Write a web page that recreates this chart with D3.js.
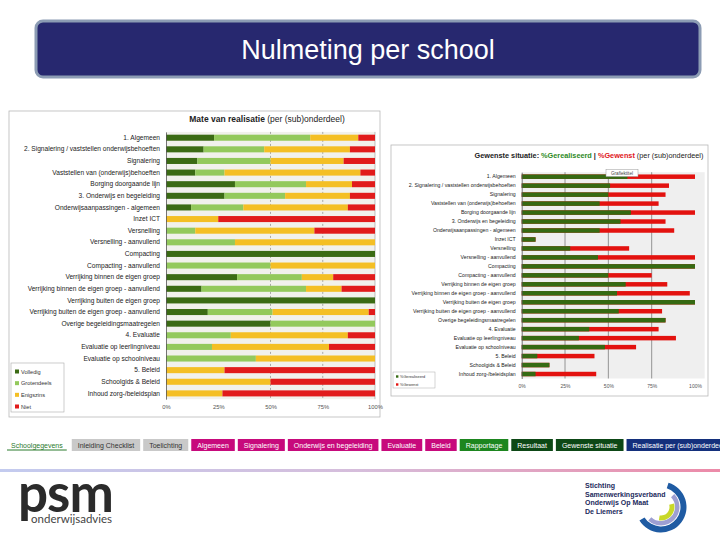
<!DOCTYPE html>
<html>
<head>
<meta charset="utf-8">
<script src="https://cdn.jsdelivr.net/npm/d3@7"></script>
<style>
  body { margin: 0; background: #fff; }
  svg { display: block; font-family: "Liberation Sans", Arial, sans-serif; }
</style>
</head>
<body>
<svg id="slide" width="720" height="540"></svg>
<script>
// categories shared by both charts
const categories = [
  "1. Algemeen",
  "2. Signalering / vaststellen onderwijsbehoeften",
  "Signalering",
  "Vaststellen van (onderwijs)behoeften",
  "Borging doorgaande lijn",
  "3. Onderwijs en begeleiding",
  "Onderwijsaanpassingen - algemeen",
  "Inzet ICT",
  "Versnelling",
  "Versnelling - aanvullend",
  "Compacting",
  "Compacting - aanvullend",
  "Verrijking binnen de eigen groep",
  "Verrijking binnen de eigen groep - aanvullend",
  "Verrijking buiten de eigen groep",
  "Verrijking buiten de eigen groep - aanvullend",
  "Overige begeleidingsmaatregelen",
  "4. Evaluatie",
  "Evaluatie op leerlingniveau",
  "Evaluatie op schoolniveau",
  "5. Beleid",
  "Schoolgids & Beleid",
  "Inhoud zorg-/beleidsplan"
];

// left chart: mate van realisatie (percentages)
const volledig    = [23, 18, 15, 14, 33, 28, 12,  0,  0,  0, 100,  0, 34, 17, 100, 20, 50,  0,  0,  0,  0,  0,  0];
const grotendeels = [46, 29, 35, 14, 34, 29, 25,  0, 14, 33,   0, 50, 31, 50,   0, 31, 50, 31, 22, 43,  0,  0,  0];
const enigszins   = [23, 41, 35, 65, 22, 31, 50, 25, 57, 67,   0, 50, 15, 17,   0, 46,  0, 56, 56, 57, 28, 50, 27];
const niet        = [ 8, 12, 15,  7, 11, 12, 13, 75, 29,  0,   0,  0, 20, 16,   0,  3,  0, 13, 22,  0, 72, 50, 73];
const realisatieKeys = ["volledig", "grotendeels", "enigszins", "niet"];
const realisatieLabels = ["Volledig", "Grotendeels", "Enigszins", "Niet"];

// right chart: gewenste situatie
const gerealiseerd = [61, 51, 50, 45, 63, 57, 45,  8, 28,  44, 100, 50, 60, 55, 100, 56, 83, 39, 33, 48,  9, 16,  8];
const gewenst      = [100, 85, 83, 79, 100, 83, 88, 8, 62, 100, 100, 75, 84, 97, 100, 81, 83, 79, 89, 66, 42, 16, 43];

const xTicks = [0, 25, 50, 75, 100];

// sheet tabs
const tabLabels = ["Schoolgegevens", "Inleiding Checklist", "Toelichting", "Algemeen", "Signalering",
  "Onderwijs en begeleiding", "Evaluatie", "Beleid", "Rapportage", "Resultaat", "Gewenste situatie",
  "Realisatie per (sub)onderdeel"];
const tabColors = ["#ffffff", "#c9c9c9", "#c9c9c9", "#c70a7c", "#c70a7c", "#c70a7c", "#c70a7c", "#c70a7c",
  "#1d861f", "#0d4816", "#0d4816", "#14307c"];

const svg = d3.select("#slide");

// ---------- title banner ----------
svg.append("rect")
  .attr("x", 36).attr("y", 21).attr("width", 664).attr("height", 56).attr("rx", 7)
  .attr("fill", "#27286f").attr("stroke", "#8c9cb4").attr("stroke-width", 3);
svg.append("text")
  .attr("x", 368).attr("y", 59).attr("text-anchor", "middle")
  .attr("fill", "#fff").attr("font-size", 27)
  .text("Nulmeting per school");

// ---------- left chart ----------
const left = svg.append("g");
left.append("rect")
  .attr("x", 9).attr("y", 111).attr("width", 371).attr("height", 306)
  .attr("fill", "#fff").attr("stroke", "#b8b8b8").attr("stroke-width", 0.8);

const title1 = left.append("text").attr("x", 267).attr("y", 122).attr("text-anchor", "middle")
  .attr("font-size", 8.5).attr("fill", "#222");
title1.append("tspan").attr("font-weight", "bold").text("Mate van realisatie ");
title1.append("tspan").text("(per (sub)onderdeel)");

const xL = d3.scaleLinear().domain([0, 100]).range([166, 375]);
const yL = d3.scaleBand().domain(categories).range([131.9, 399.2]).paddingInner(0.48).paddingOuter(0.24);

left.append("rect")
  .attr("x", xL(0)).attr("y", 131.9).attr("width", xL(100) - xL(0)).attr("height", 399.2 - 131.9)
  .attr("fill", "#f1f1ec");

left.selectAll(".gridL").data([50, 75]).join("line")
  .attr("x1", d => xL(d)).attr("x2", d => xL(d))
  .attr("y1", 131.9).attr("y2", 399.2)
  .attr("stroke", "#777").attr("stroke-width", 0.6).attr("stroke-dasharray", "2,2");
left.append("line")
  .attr("x1", xL(100)).attr("x2", xL(100)).attr("y1", 131.9).attr("y2", 399.2)
  .attr("stroke", "#999").attr("stroke-width", 0.6);

const rowsL = categories.map((c, i) => ({
  cat: c, volledig: volledig[i], grotendeels: grotendeels[i], enigszins: enigszins[i], niet: niet[i]
}));
const stacked = d3.stack().keys(realisatieKeys)(rowsL);
const colorL = d3.scaleOrdinal().domain(realisatieKeys).range(["#3b6b14", "#93c95c", "#f4bf24", "#e11b1b"]);

left.append("g").selectAll("g").data(stacked).join("g")
  .attr("fill", d => colorL(d.key))
  .selectAll("rect").data(d => d).join("rect")
  .attr("x", d => xL(d[0]))
  .attr("y", d => yL(d.data.cat))
  .attr("width", d => xL(d[1]) - xL(d[0]))
  .attr("height", yL.bandwidth());

const yAxisL = left.append("g").attr("transform", `translate(${xL(0)},0)`)
  .call(d3.axisLeft(yL).tickSize(0).tickPadding(6));
yAxisL.select(".domain").attr("stroke", "#555").attr("stroke-width", 0.8);
yAxisL.selectAll("text").attr("font-size", 6.6).attr("fill", "#222")
  .attr("font-family", "'Liberation Sans', Arial, sans-serif");

const xAxisL = left.append("g").attr("transform", "translate(0,403)")
  .call(d3.axisBottom(xL).tickValues(xTicks).tickFormat(d => d + "%").tickSize(0).tickPadding(2));
xAxisL.select(".domain").remove();
xAxisL.selectAll("text").attr("font-size", 5.8).attr("fill", "#555")
  .attr("font-family", "'Liberation Sans', Arial, sans-serif");

// legend
const legL = left.append("g");
legL.append("rect").attr("x", 11).attr("y", 363).attr("width", 53).attr("height", 49)
  .attr("fill", "#fff").attr("stroke", "#aaa").attr("stroke-width", 0.6);
const legRow = d3.scalePoint().domain(realisatieKeys).range([371.5, 406.5]);
legL.selectAll("rect.sw").data(realisatieKeys).join("rect").attr("class", "sw")
  .attr("x", 15).attr("y", d => legRow(d) - 2).attr("width", 4).attr("height", 4)
  .attr("fill", d => colorL(d));
legL.selectAll("text").data(realisatieKeys).join("text")
  .attr("x", 21).attr("y", d => legRow(d) + 2).attr("font-size", 5.6).attr("fill", "#333")
  .text((d, i) => realisatieLabels[i]);

// ---------- right chart ----------
const right = svg.append("g");
right.append("rect")
  .attr("x", 391).attr("y", 145).attr("width", 317).attr("height", 251)
  .attr("fill", "#fff").attr("stroke", "#b8b8b8").attr("stroke-width", 0.8);

const title2 = right.append("text").attr("x", 589).attr("y", 158).attr("text-anchor", "middle")
  .attr("font-size", 7.3).attr("fill", "#222");
title2.append("tspan").attr("font-weight", "bold").text("Gewenste situatie: ");
title2.append("tspan").attr("font-weight", "bold").attr("fill", "#2d8a1e").text("%Gerealiseerd");
title2.append("tspan").attr("font-weight", "bold").text(" | ");
title2.append("tspan").attr("font-weight", "bold").attr("fill", "#e0161b").text("%Gewenst");
title2.append("tspan").text(" (per (sub)onderdeel)");

const xR = d3.scaleLinear().domain([0, 100]).range([521.7, 695]);
const yR = d3.scaleBand().domain(categories).range([172.2, 378.5]).paddingInner(0.5).paddingOuter(0.25);

right.append("rect")
  .attr("x", xR(0)).attr("y", 172.2).attr("width", 183).attr("height", 378.5 - 172.2)
  .attr("fill", "#efefef");
right.selectAll(".gridR").data([25, 50, 75]).join("line")
  .attr("x1", d => xR(d)).attr("x2", d => xR(d))
  .attr("y1", 172.2).attr("y2", 378.5)
  .attr("stroke", "#555").attr("stroke-width", 0.6);

const rowsR = categories.map((c, i) => ({ cat: c, real: gerealiseerd[i], wens: gewenst[i] }));
right.selectAll("rect.wens").data(rowsR).join("rect").attr("class", "wens")
  .attr("x", xR(0)).attr("y", d => yR(d.cat))
  .attr("width", d => xR(d.wens) - xR(0)).attr("height", yR.bandwidth())
  .attr("fill", "#e3120f");
right.selectAll("rect.real").data(rowsR).join("rect").attr("class", "real")
  .attr("x", xR(0)).attr("y", d => yR(d.cat))
  .attr("width", d => xR(d.real) - xR(0)).attr("height", yR.bandwidth())
  .attr("fill", "#356a12");

const yAxisR = right.append("g").attr("transform", `translate(${xR(0)},0)`)
  .call(d3.axisLeft(yR).tickSize(0).tickPadding(6));
yAxisR.select(".domain").attr("stroke", "#555").attr("stroke-width", 0.8);
yAxisR.selectAll("text").attr("font-size", 5.2).attr("fill", "#222")
  .attr("font-family", "'Liberation Sans', Arial, sans-serif");

const xAxisR = right.append("g").attr("transform", "translate(0,382)")
  .call(d3.axisBottom(xR).tickValues(xTicks).tickFormat(d => d + "%").tickSize(0).tickPadding(2));
xAxisR.select(".domain").remove();
xAxisR.selectAll("text").attr("font-size", 5).attr("fill", "#555")
  .attr("font-family", "'Liberation Sans', Arial, sans-serif");

// legend
const legR = right.append("g");
legR.append("rect").attr("x", 393).attr("y", 372).attr("width", 42).attr("height", 16)
  .attr("fill", "#fff").attr("stroke", "#aaa").attr("stroke-width", 0.5);
const legRKeys = ["%Gerealiseerd", "%Gewenst"];
const legRColor = d3.scaleOrdinal().domain(legRKeys).range(["#356a12", "#e3120f"]);
const legRRow = d3.scalePoint().domain(legRKeys).range([376.5, 384.5]);
legR.selectAll("rect.sw").data(legRKeys).join("rect").attr("class", "sw")
  .attr("x", 396).attr("y", d => legRRow(d) - 1.2).attr("width", 2.4).attr("height", 2.4)
  .attr("fill", d => legRColor(d));
legR.selectAll("text").data(legRKeys).join("text")
  .attr("x", 400).attr("y", d => legRRow(d) + 1.3).attr("font-size", 3.8).attr("fill", "#333")
  .text(d => d);

// "Grafiektitel" hover box
right.append("rect").attr("x", 606).attr("y", 169.5).attr("width", 32).attr("height", 7)
  .attr("fill", "#fff").attr("stroke", "#999").attr("stroke-width", 0.5);
right.append("text").attr("x", 622).attr("y", 174.8).attr("text-anchor", "middle")
  .attr("font-size", 4.6).attr("fill", "#444").text("Grafiektitel");

// ---------- sheet tabs ----------
const tabsG = svg.append("g").attr("font-size", 7);
let tx = 5;
tabLabels.forEach((label, i) => {
  const g = tabsG.append("g");
  const txt = g.append("text").attr("y", 447.5).text(label)
    .attr("fill", i === 0 ? "#2b7a2d" : (i < 3 ? "#333" : "#fff"));
  const w = txt.node().getComputedTextLength() + 12;
  g.insert("rect", "text").attr("x", tx).attr("y", 439).attr("width", w).attr("height", 12)
    .attr("fill", tabColors[i]);
  txt.attr("x", tx + 6);
  if (i === 0) {
    g.append("line").attr("x1", tx + 2).attr("x2", tx + w - 2).attr("y1", 450).attr("y2", 450)
      .attr("stroke", "#2b7a2d").attr("stroke-width", 1);
  }
  tx += w + 3;
});

// ---------- footer ----------
const defs = svg.append("defs");
const grad = defs.append("linearGradient").attr("id", "footLine");
grad.append("stop").attr("offset", "0%").attr("stop-color", "#c3cbef");
grad.append("stop").attr("offset", "50%").attr("stop-color", "#d6bddb");
grad.append("stop").attr("offset", "100%").attr("stop-color", "#ec8aa8");
svg.append("rect").attr("x", 0).attr("y", 469).attr("width", 720).attr("height", 3)
  .attr("fill", "url(#footLine)");

// psm logo
svg.append("text").attr("x", 18).attr("y", 512)
  .attr("font-family", "Lato, 'Open Sans', sans-serif").attr("font-weight", 700)
  .attr("font-size", 53).attr("letter-spacing", -1).attr("fill", "#2b2b2b").text("psm");
svg.append("text").attr("x", 31).attr("y", 523)
  .attr("font-family", "Lato, 'Open Sans', sans-serif").attr("font-size", 11.5)
  .attr("fill", "#444").text("onderwijsadvies");

// samenwerkingsverband logo
const swvLines = ["Stichting", "Samenwerkingsverband", "Onderwijs Op Maat", "De Liemers"];
svg.append("g").selectAll("text").data(swvLines).join("text")
  .attr("x", 585).attr("y", (d, i) => 488 + i * 8.5)
  .attr("font-size", 7).attr("font-weight", "bold").attr("fill", "#1c2a5c")
  .text(d => d);
const arc = d3.arc();
const logoG = svg.append("g").attr("transform", "translate(661,507)");
logoG.append("path").attr("fill", "#1f5ba3")
  .attr("d", arc({ innerRadius: 19.5, outerRadius: 25.5, startAngle: 0.3, endAngle: 4.15 }));
logoG.append("path").attr("fill", "#9d9fd2")
  .attr("d", arc({ innerRadius: 14, outerRadius: 18.5, startAngle: 0.8, endAngle: 3.9 }));
logoG.append("path").attr("fill", "#c8d82a")
  .attr("d", arc({ innerRadius: 8.5, outerRadius: 13.5, startAngle: 1.3, endAngle: 3.3 }));
</script>
</body>
</html>
